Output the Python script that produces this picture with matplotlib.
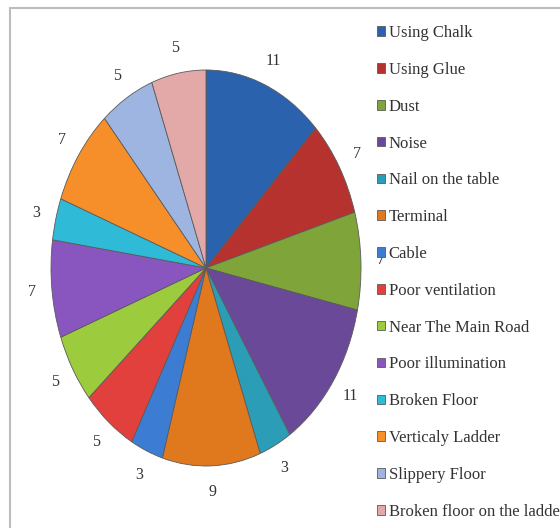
"""Pie chart of hazard counts, recreated from the reference image."""

import matplotlib

matplotlib.use("Agg")
import matplotlib.pyplot as plt
from matplotlib.patches import Rectangle

categories = [
    "Using Chalk", "Using Glue", "Dust", "Noise", "Nail on the table",
    "Terminal", "Cable", "Poor ventilation", "Near The Main Road",
    "Poor illumination", "Broken Floor", "Verticaly Ladder",
    "Slippery Floor", "Broken floor on the ladder",
]
counts = [11, 7, 7, 11, 3, 9, 3, 5, 5, 7, 3, 7, 5, 5]
colors = [
    "#2A62AE", "#B5322E", "#7FA53A", "#6A4A98", "#2C9DB6", "#E0781E",
    "#3C7CD2", "#E2403C", "#9CCB3E", "#8856BE", "#2FBAD8", "#F68F2A",
    "#9DB5E0", "#E3A9A9",
]

plt.rcParams["font.family"] = ["Liberation Serif", "DejaVu Serif"]

fig = plt.figure(figsize=(5.6, 5.28), dpi=100)
fig.patch.set_facecolor("white")

# outer chart-area frame (cut off at right and bottom like the source)
fig.add_artist(Rectangle((10 / 560, -0.05), 1.0, 1 - 8 / 528 + 0.05,
                         transform=fig.transFigure, fill=False,
                         edgecolor="#BDBDBD", linewidth=1.5))

ax = fig.add_axes([(206 - 155) / 560, (528 - 268 - 198) / 528, 310 / 560, 396 / 528])
wedges, texts = ax.pie(
    counts, labels=[str(c) for c in counts], colors=colors,
    startangle=90, counterclock=False, labeldistance=1.13,
    wedgeprops={"edgecolor": "#5a5a5a", "linewidth": 0.6},
    textprops={"fontsize": 11.5, "color": "#333333"},
)
for t in texts:
    t.set_ha("center")
    t.set_va("center")
ax.set_aspect("auto")
ax.set_xlim(-1, 1)
ax.set_ylim(-1, 1)

fig.legend(
    wedges, categories, loc="upper left",
    bbox_to_anchor=(377 / 560, 1 - 25 / 528), frameon=False,
    fontsize=12, labelspacing=1.25, handlelength=0.5, handleheight=0.5,
    handletextpad=0.2, borderpad=0, borderaxespad=0,
    labelcolor="#333333",
)

fig.savefig("out.png", dpi=100)
